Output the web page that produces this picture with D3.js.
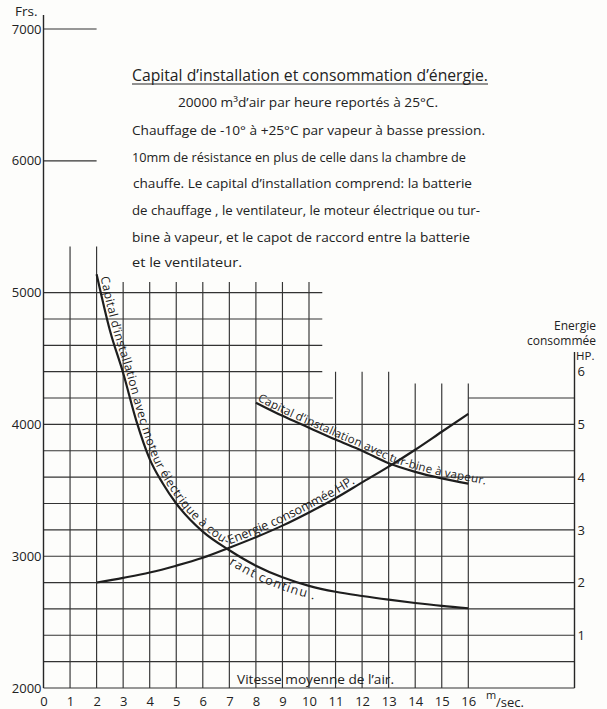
<!DOCTYPE html>
<html>
<head>
<meta charset="utf-8">
<script src="https://cdn.jsdelivr.net/npm/d3@7/dist/d3.min.js"></script>
<style>
  body { margin: 0; background: #fdfdfb; }
  svg text { font-family: "Open Sans", sans-serif; fill: #222; }
</style>
</head>
<body>
<div id="plot"></div>
<script>
// Values
const speedTicks = d3.range(0, 17);                 // m/sec
const frsTicks = [2000, 3000, 4000, 5000, 6000, 7000];
const hpTicks = [1, 2, 3, 4, 5, 6];

// capital, electric motor (Frs)
const elecSpeeds = [2, 2.5, 3, 3.5, 4, 4.5, 5, 6, 7, 8, 9, 10, 11, 12, 13, 14, 15, 16];
const elecCapital = [5140, 4715, 4390, 4025, 3737, 3550, 3400, 3186, 3045, 2928, 2840, 2775, 2730, 2698, 2670, 2645, 2623, 2605];

// capital, steam turbine (Frs)
const turbSpeeds = [8, 9, 10, 11, 12, 13, 14, 15, 16];
const turbCapital = [4165, 4065, 3975, 3885, 3800, 3705, 3640, 3590, 3550];

// energy consumed (HP)
const energySpeeds = [2, 3, 4, 5, 6, 7, 8, 9, 10, 11, 12, 13, 14, 15, 16];
const energyHP = [2.0, 2.09, 2.19, 2.32, 2.47, 2.66, 2.86, 3.08, 3.33, 3.6, 3.9, 4.2, 4.52, 4.86, 5.2];

const titleText = "Capital d\u2019installation et consommation d\u2019énergie.";
const noteLines = [
  "20000 m\u00b3d\u2019air par heure reportés à 25°C.",
  "Chauffage de -10° à +25°C par vapeur à basse pression.",
  "10mm de résistance en plus de celle dans la chambre de",
  "chauffe.  Le capital d\u2019installation comprend: la batterie",
  "de chauffage , le ventilateur, le moteur électrique ou tur-",
  "bine à vapeur, et le capot de raccord entre la batterie",
  "et le ventilateur."
];

const width = 607, height = 709;

const svg = d3.select("div#plot")
  .append("svg")
    .attr("width", width)
    .attr("height", height);

const x = d3.scaleLinear().domain([0, 20]).range([43.5, 574.5]);
const y = d3.scaleLinear().domain([2000, 7000]).range([688, 29]);
const yHP = d3.scaleLinear().domain([0, 6]).range([y(2000), y(4400)]);

const ink = "#262626";

// grid: vertical lines, stepped tops
const grid = svg.append("g").attr("stroke", "#333").attr("stroke-width", 1.15);
function vTop(v) {
  if (v <= 2) return 5350;
  if (v <= 10) return 5080;
  if (v <= 13) return 4400;
  return 4310;
}
grid.selectAll(".vline")
  .data(speedTicks.filter(d => d > 0))
  .join("line")
    .attr("class", "vline")
    .attr("x1", d => x(d)).attr("x2", d => x(d))
    .attr("y1", y(2000)).attr("y2", d => y(vTop(d)));

// grid: horizontal lines, stepped extents
const hSegs = [];
d3.range(2000, 5001, 200).forEach(f => {
  if (f <= 4000) hSegs.push([f, 0, 20]);
  else if (f === 4200) { hSegs.push([f, 0, 10.9]); hSegs.push([f, 16, 20]); }
  else hSegs.push([f, 0, 10.5]);
});
hSegs.push([6000, 0, 2]);
hSegs.push([7000, 0, 2]);
grid.selectAll(".hline")
  .data(hSegs)
  .join("line")
    .attr("class", "hline")
    .attr("x1", d => x(d[1])).attr("x2", d => x(d[2]))
    .attr("y1", d => y(d[0])).attr("y2", d => y(d[0]));

// axes lines
svg.append("line")
  .attr("x1", x(0)).attr("x2", x(0)).attr("y1", 15).attr("y2", y(2000))
  .attr("stroke", ink).attr("stroke-width", 1.4);
svg.append("line")
  .attr("x1", x(20)).attr("x2", x(20)).attr("y1", 352).attr("y2", y(2000))
  .attr("stroke", ink).attr("stroke-width", 1.4);

function styleTicks(g) {
  g.select(".domain").remove();
  g.selectAll("text")
    .style("font-size", "13px")
    .style("font-family", "\"Open Sans\", sans-serif")
    .attr("fill", "#222");
}

// left axis labels
svg.append("g")
  .attr("transform", `translate(${x(0)},0)`)
  .call(d3.axisLeft(y).tickValues(frsTicks).tickSize(0).tickPadding(2).tickFormat(d3.format("d")))
  .call(styleTicks);

// bottom axis labels
svg.append("g")
  .attr("transform", `translate(0,${y(2000)})`)
  .call(d3.axisBottom(x).tickValues(speedTicks).tickSize(0).tickPadding(8.5).tickFormat(d3.format("d")))
  .call(styleTicks);

// right axis labels (HP)
svg.append("g")
  .attr("transform", `translate(${x(20)},0)`)
  .call(d3.axisRight(yHP).tickValues(hpTicks).tickSize(0).tickPadding(3).tickFormat(d3.format("d")))
  .call(styleTicks);

// axis titles
svg.append("text").attr("x", 15).attr("y", 16).style("font-size", "13.5px").text("Frs.");
svg.append("text").attr("x", 596).attr("y", 329.5).attr("text-anchor", "end").style("font-size", "12px").text("Energie");
svg.append("text").attr("x", 596).attr("y", 345).attr("text-anchor", "end").style("font-size", "12px").text("consommée");
svg.append("text").attr("x", 576).attr("y", 360).style("font-size", "11.5px").text("HP.");
svg.append("text").attr("x", 486).attr("y", 699).style("font-size", "11px").text("m");
svg.append("text").attr("x", 496).attr("y", 707).style("font-size", "13px").text("/sec.");
svg.append("text").attr("x", 237).attr("y", 684)
  .attr("textLength", 157).attr("lengthAdjust", "spacingAndGlyphs")
  .style("font-size", "13px").text("Vitesse moyenne de l\u2019air.");

// title and notes
svg.append("text").attr("x", 132).attr("y", 80.5)
  .attr("textLength", 356).attr("lengthAdjust", "spacingAndGlyphs")
  .style("font-size", "17px").text(titleText);
svg.append("line").attr("x1", 132).attr("x2", 488).attr("y1", 84).attr("y2", 84)
  .attr("stroke", ink).attr("stroke-width", 1.2);

const noteBox = [[178, 438, 106.7], [132, 485, 135], [132, 466, 161.7], [133, 472, 188.3],
                 [132, 480, 215], [132, 470, 241.7], [132, 242, 267]];
svg.selectAll(".note")
  .data(noteLines)
  .join("text")
    .attr("class", "note")
    .attr("x", (d, i) => noteBox[i][0])
    .attr("y", (d, i) => noteBox[i][2])
    .attr("textLength", (d, i) => noteBox[i][1] - noteBox[i][0])
    .attr("lengthAdjust", "spacingAndGlyphs")
    .style("font-size", "13px")
    .text(d => d);

// curves
const lineFrs = d3.line().x(d => x(d[0])).y(d => y(d[1])).curve(d3.curveMonotoneX);
const lineHP = d3.line().x(d => x(d[0])).y(d => yHP(d[1])).curve(d3.curveMonotoneX);

svg.append("path")
  .attr("id", "elec")
  .attr("d", lineFrs(d3.zip(elecSpeeds, elecCapital)))
  .attr("fill", "none").attr("stroke", "#1e1e1e").attr("stroke-width", 2.2);

svg.append("path")
  .attr("id", "turb")
  .attr("d", lineFrs(d3.zip(turbSpeeds, turbCapital)))
  .attr("fill", "none").attr("stroke", "#1e1e1e").attr("stroke-width", 2.2);

svg.append("path")
  .attr("id", "energy")
  .attr("d", lineHP(d3.zip(energySpeeds, energyHP)))
  .attr("fill", "none").attr("stroke", "#1e1e1e").attr("stroke-width", 2.2);

// label guide for the turbine text, running a bit past the curve's end
const tp = d3.zip(turbSpeeds, turbCapital).map(d => [x(d[0]), y(d[1])]);
const a = tp[tp.length - 2], b = tp[tp.length - 1];
const len = Math.hypot(b[0] - a[0], b[1] - a[1]);
const ext = [b[0] + (b[0] - a[0]) / len * 30, b[1] + (b[1] - a[1]) / len * 30];
svg.append("path")
  .attr("id", "turbLabel")
  .attr("d", d3.line().curve(d3.curveMonotoneX)(tp.concat([ext])))
  .attr("fill", "none").attr("stroke", "none");

function lengthAtX(node, px) {
  let lo = 0, hi = node.getTotalLength();
  for (let i = 0; i < 40; i++) {
    const mid = (lo + hi) / 2;
    if (node.getPointAtLength(mid).x < px) lo = mid; else hi = mid;
  }
  return lo;
}

// text along a curve, one glyph at a time, stretched to run between two x positions
function pathLabel(id, text, fromPx, toPx, off, size) {
  const node = document.getElementById(id);
  const total = node.getTotalLength();
  const s = lengthAtX(node, fromPx);
  const e = lengthAtX(node, toPx);
  const probe = svg.append("text").style("font-size", size + "px").text(text);
  const chars = Array.from(text);
  const adv = chars.map((c, i) => probe.node().getSubStringLength(i, 1));
  probe.remove();
  const k = (e - s) / d3.sum(adv);
  let acc = 0;
  const glyphs = chars.map((c, i) => {
    const L = s + (acc + adv[i] / 2) * k;
    acc += adv[i];
    const p = node.getPointAtLength(L);
    const p0 = node.getPointAtLength(Math.max(L - 1.5, 0));
    const p1 = node.getPointAtLength(Math.min(L + 1.5, total));
    const ang = Math.atan2(p1.y - p0.y, p1.x - p0.x) * 180 / Math.PI;
    return { c, px: p.x, py: p.y, ang };
  });
  svg.append("g")
    .selectAll("text")
    .data(glyphs)
    .join("text")
      .attr("text-anchor", "middle")
      .attr("transform", d => `translate(${d.px},${d.py}) rotate(${d.ang})`)
      .attr("y", off)
      .style("font-size", size + "px")
      .text(d => d.c);
}

pathLabel("elec", "Capital d\u2019installation avec moteur électrique à cou-", x(2.03), x(6.84), -3, 12);
pathLabel("elec", "rant continu .", x(7.2), x(10.3), 12, 12.5);
pathLabel("energy", "Energie consommée HP.", x(7.05), x(11.8), -3, 12.5);
pathLabel("turbLabel", "Capital d\u2019installation avec tur-bine à vapeur.", x(8), 485, -2.5, 11.5);
</script>
</body>
</html>
